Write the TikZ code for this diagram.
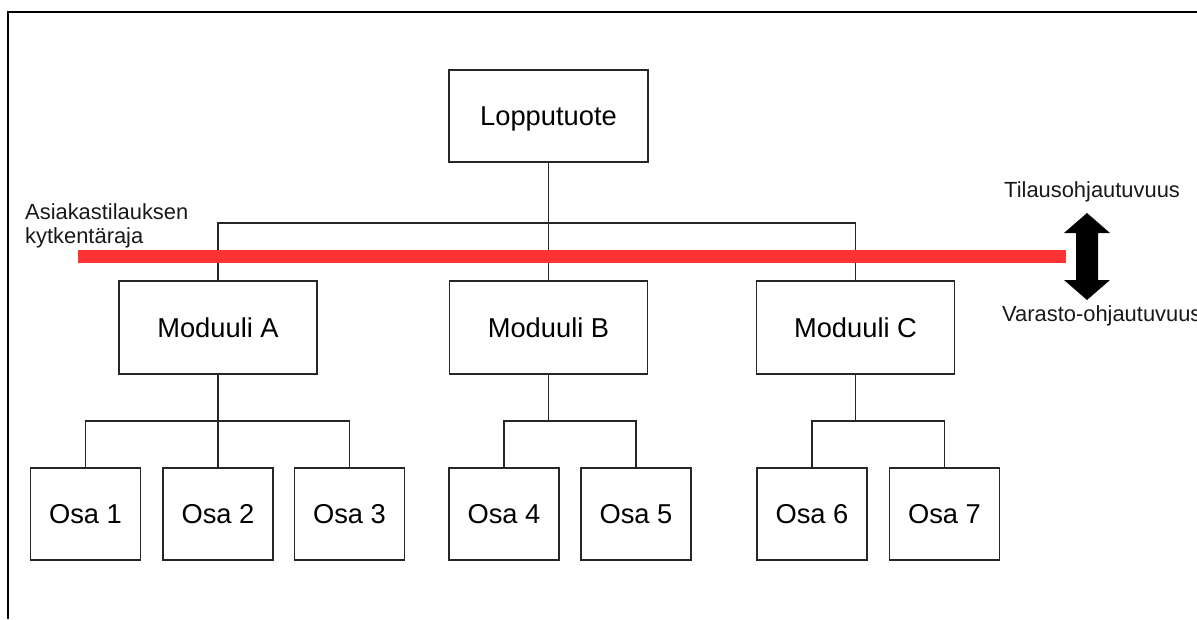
\documentclass[tikz,border=0pt]{standalone}
\usepackage{fontspec}
\setmainfont{Liberation Sans}
\definecolor{cutred}{RGB}{255,51,51}
\begin{document}
\begin{tikzpicture}[x=1pt,y=-1pt,
  box/.style={draw=black!85, line width=1.4pt, fill=white,
    font=\fontsize{27.3}{31}\selectfont, text height=19.5pt, text depth=0pt,
    inner sep=0pt, anchor=center},
  modbox/.style={box, minimum width=198pt, minimum height=93pt},
  partbox/.style={box, minimum width=110pt, minimum height=92pt},
  link/.style={draw=black!85, line width=1.4pt},
  note/.style={font=\fontsize{21.9}{24}\selectfont, inner sep=0pt, text=black!90},
  frame/.style={draw=black, line width=2.2pt},
  cutline/.style={draw=cutred, line width=13pt},
  bigarrow/.style={fill=black}
]
\useasboundingbox (0,0) rectangle (1197,619);

% frame edges
\coordinate (fb) at (8,619);
\coordinate (fc) at (8,12);
\coordinate (fr) at (1197,12);
\draw[frame] (fb) -- (fc) -- (fr);

% product structure
\node[box, minimum width=199pt, minimum height=92pt] (top) at (548.5,116) {Lopputuote};

\node[modbox] (modA) at (218,327.5) {Moduuli A};
\node[modbox] (modB) at (548.5,327.5) {Moduuli B};
\node[modbox] (modC) at (855.5,327.5) {Moduuli C};

\node[partbox] (osa1) at (85.5,514) {Osa 1};
\node[partbox] (osa2) at (218,514) {Osa 2};
\node[partbox] (osa3) at (349.5,514) {Osa 3};
\node[partbox] (osa4) at (504,514) {Osa 4};
\node[partbox] (osa5) at (636,514) {Osa 5};
\node[partbox] (osa6) at (812,514) {Osa 6};
\node[partbox] (osa7) at (944.5,514) {Osa 7};

% branching points
\coordinate (busT) at (548.5,223);
\coordinate (busA) at (218,421);
\coordinate (busB) at (548.5,421);
\coordinate (busC) at (855.5,421);

\draw[link] (top.south) -- (busT);
\draw[link] (modA.north) |- (busT) -| (modC.north);
\draw[link] (busT) -- (modB.north);

\draw[link] (modA.south) -- (busA);
\draw[link] (osa1.north) |- (busA) -| (osa3.north);
\draw[link] (busA) -- (osa2.north);

\draw[link] (modB.south) -- (busB);
\draw[link] (osa4.north) |- (busB) -| (osa5.north);

\draw[link] (modC.south) -- (busC);
\draw[link] (osa6.north) |- (busC) -| (osa7.north);

% customer order decoupling point
\coordinate (cutL) at (78,256.5);
\coordinate (cutR) at (1066,256.5);
\draw[cutline] (cutL) -- (cutR);

\node[note, anchor=north west, align=left] (cutlabel) at (25,203) {Asiakastilauksen\\kytkentäraja};

% direction arrow
\fill[bigarrow] (1076,233) -- (1064,233) -- (1087,213) -- (1110,233) -- (1098,233)
  -- (1098,280) -- (1110,280) -- (1087,300) -- (1064,280) -- (1076,280) -- cycle;

\node[note, anchor=base west] (order) at (1004,197) {Tilausohjautuvuus};
\node[note, anchor=base west] (stock) at (1002,321) {Varasto-ohjautuvuus};
\end{tikzpicture}
\end{document}
